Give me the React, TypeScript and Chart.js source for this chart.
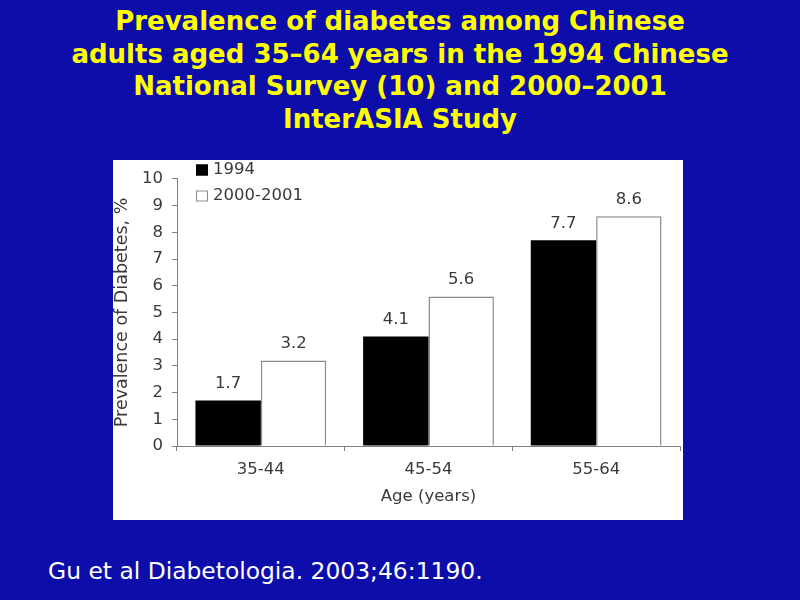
import React, { useEffect, useRef } from "react";
import { Chart, registerables } from "chart.js";

Chart.register(...registerables);

const titleLines = [
  "Prevalence of diabetes among Chinese",
  "adults aged 35\u201364 years in the 1994 Chinese",
  "National Survey (10) and 2000\u20132001",
  "InterASIA Study",
];
const citation = "Gu et al Diabetologia. 2003;46:1190.";

const categories = ["35-44", "45-54", "55-64"];
const seriesNames = ["1994", "2000-2001"];
const values1994 = [1.7, 4.1, 7.7];
const values2000 = [3.2, 5.6, 8.6];
const yMin = 0;
const yMax = 10;
const yStep = 1;
const xTitle = "Age (years)";
const yTitle = "Prevalence of Diabetes, %";

const BG = "#0D0DA9";
const TEXT = "#3a3a3a";
const AXIS = "#808080";
const FONT = "'DejaVu Sans', sans-serif";

const valueLabels = {
  id: "valueLabels",
  afterDatasetsDraw(chart: any) {
    const ctx = chart.ctx;
    ctx.save();
    ctx.fillStyle = TEXT;
    ctx.font = "16.5px " + FONT;
    ctx.textAlign = "center";
    ctx.textBaseline = "middle";
    chart.data.datasets.forEach((ds: any, di: number) => {
      const meta = chart.getDatasetMeta(di);
      meta.data.forEach((bar: any, i: number) => {
        ctx.fillText(String(ds.data[i]), bar.x, bar.y - 17);
      });
    });
    ctx.restore();
  },
};

const customLegend = {
  id: "customLegend",
  afterDraw(chart: any) {
    const ctx = chart.ctx;
    const left = chart.chartArea.left;
    ctx.save();
    ctx.font = "16.5px " + FONT;
    ctx.textBaseline = "middle";
    ctx.textAlign = "left";
    chart.data.datasets.forEach((ds: any, i: number) => {
      const cy = 10 + i * 26;
      const bx = left + 19;
      ctx.fillStyle = ds.backgroundColor;
      ctx.fillRect(bx, cy - 5.5, 12, 11);
      ctx.strokeStyle = ds.borderColor;
      ctx.lineWidth = 1;
      ctx.strokeRect(bx + 0.5, cy - 5, 11, 10);
      ctx.fillStyle = TEXT;
      ctx.fillText(ds.label, bx + 17, cy);
    });
    ctx.restore();
  },
};

function BarChart() {
  const ref = useRef<HTMLCanvasElement | null>(null);
  useEffect(() => {
    if (!ref.current) return;
    const chart = new Chart(ref.current, {
      type: "bar",
      data: {
        labels: categories,
        datasets: [
          {
            label: seriesNames[0],
            data: values1994,
            backgroundColor: "#000000",
            borderColor: "#000000",
            borderWidth: 0,
          },
          {
            label: seriesNames[1],
            data: values2000,
            backgroundColor: "#ffffff",
            borderColor: "#8a8a8a",
            borderWidth: 1.5,
          },
        ],
      },
      options: {
        responsive: false,
        animation: false,
        layout: { padding: { top: 12, right: 3, left: 0, bottom: 0 } },
        datasets: { bar: { categoryPercentage: 0.78, barPercentage: 1 } },
        plugins: {
          legend: { display: false },
          tooltip: { enabled: false },
          title: { display: false },
        },
        scales: {
          x: {
            afterFit: (s: any) => {
              s.height = 74;
            },
            grid: {
              offset: true,
              drawOnChartArea: false,
              drawTicks: true,
              tickLength: 5,
              color: AXIS,
            },
            border: { display: true, color: AXIS, width: 1 },
            ticks: {
              color: TEXT,
              font: { family: FONT, size: 16.5 },
              padding: 9,
            },
            title: {
              display: true,
              text: xTitle,
              color: TEXT,
              font: { family: FONT, size: 16.5 },
              padding: { top: 0, bottom: 13 },
            },
          },
          y: {
            min: yMin,
            max: yMax,
            afterFit: (s: any) => {
              s.width = 64;
            },
            grid: {
              drawOnChartArea: false,
              drawTicks: true,
              tickLength: 5,
              color: AXIS,
            },
            border: { display: true, color: AXIS, width: 1 },
            ticks: {
              stepSize: yStep,
              color: TEXT,
              font: { family: FONT, size: 16.5 },
              padding: 9,
            },
            title: {
              display: true,
              text: yTitle,
              color: TEXT,
              font: { family: FONT, size: 17.5, lineHeight: 1 },
              padding: { top: 1, bottom: 0 },
            },
          },
        },
      },
      plugins: [valueLabels, customLegend],
    });
    return () => chart.destroy();
  }, []);
  return <canvas ref={ref} width={570} height={360} />;
}

export default function App() {
  return (
    <div
      style={{
        position: "fixed",
        left: 0,
        top: 0,
        width: 800,
        height: 600,
        background: BG,
        overflow: "hidden",
      }}
    >
      <div
        style={{
          position: "absolute",
          left: 0,
          top: 5,
          width: 800,
          textAlign: "center",
          color: "#FFFF00",
          fontFamily: FONT,
          fontWeight: "bold",
          fontSize: 26,
          lineHeight: "32.7px",
        }}
      >
        {titleLines.map((l, i) => (
          <div key={i} style={{ whiteSpace: "nowrap" }}>
            {l}
          </div>
        ))}
      </div>
      <div
        style={{
          position: "absolute",
          left: 113,
          top: 160,
          width: 570,
          height: 360,
          background: "#ffffff",
        }}
      >
        <BarChart />
      </div>
      <div
        style={{
          position: "absolute",
          left: 48,
          top: 558,
          color: "#ffffff",
          fontFamily: FONT,
          fontSize: 23.4,
          lineHeight: "27px",
          whiteSpace: "nowrap",
        }}
      >
        {citation}
      </div>
    </div>
  );
}
